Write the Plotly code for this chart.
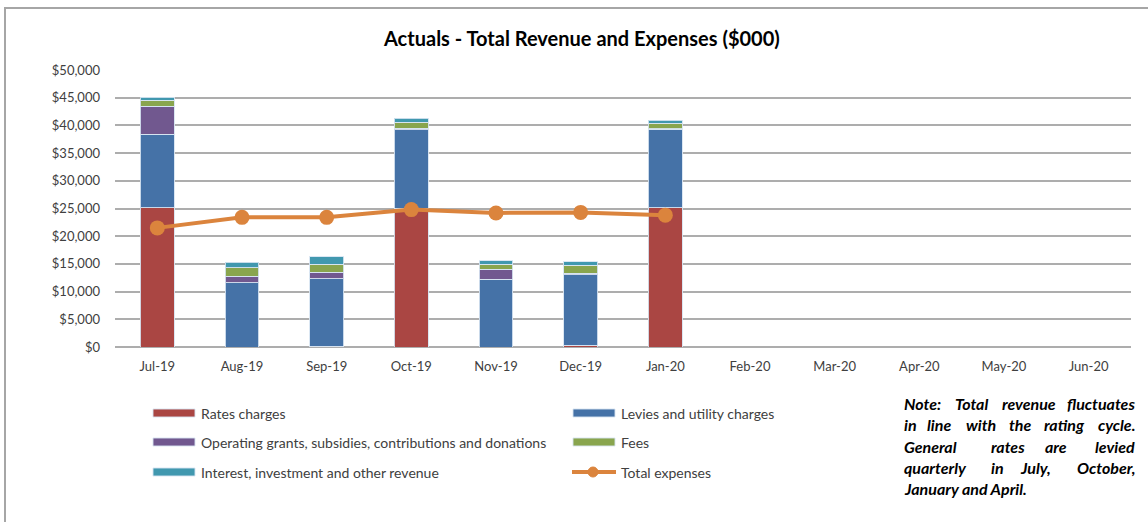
import plotly.graph_objects as go

# Monthly actuals, $000
months = ["Jul-19", "Aug-19", "Sep-19", "Oct-19", "Nov-19", "Dec-19",
          "Jan-20", "Feb-20", "Mar-20", "Apr-20", "May-20", "Jun-20"]
rates_charges = [25150, 0, 150, 25050, 0, 300, 25100, None, None, None, None, None]
levies_utility = [13250, 11600, 12150, 14150, 12200, 12700, 14200, None, None, None, None, None]
operating_grants = [5100, 1200, 1200, 300, 1800, 300, 60, None, None, None, None, None]
fees = [1000, 1500, 1400, 1100, 900, 1500, 1050, None, None, None, None, None]
interest_other = [600, 1000, 1400, 700, 700, 600, 500, None, None, None, None, None]
total_expenses = [21500, 23400, 23400, 24800, 24200, 24300, 23800]

y_ticks = list(range(0, 50001, 5000))
y_tick_labels = ["$0" if v == 0 else f"${v:,}" for v in y_ticks]

title = "Actuals - Total Revenue and Expenses ($000)"
note_lines = [
    ["Note:", "Total", "revenue", "fluctuates"],
    ["in", "line", "with", "the", "rating", "cycle."],
    ["General", "rates", "are", "levied"],
    ["quarterly", "in", "July,", "October,"],
    ["January and April."],
]

bar_series = [
    ("Rates charges", rates_charges, "#AA4643"),
    ("Levies and utility charges", levies_utility, "#4572A7"),
    ("Operating grants, subsidies, contributions and donations", operating_grants, "#71588F"),
    ("Fees", fees, "#89A54E"),
    ("Interest, investment and other revenue", interest_other, "#4198AF"),
]
line_name = "Total expenses"
line_color = "#DB843D"

FONT = "Lato"
TEXT = "#404040"

# plot area in pixels
L, R, T, B = 115, 1131, 70, 347


def px(x):
    return (x - L) / (R - L)


def py(y):
    return (B - y) / (B - T)


fig = go.Figure()
for name, vals, color in bar_series:
    fig.add_trace(go.Bar(
        x=months, y=vals, name=name, marker_color=color,
        marker_line=dict(color="rgba(215,228,242,0.9)", width=1),
        showlegend=False,
    ))

fig.add_trace(go.Scatter(
    x=months[:len(total_expenses)], y=total_expenses, name=line_name,
    mode="lines+markers", line=dict(color=line_color, width=4),
    marker=dict(size=15, color=line_color), showlegend=False,
))

shapes = []
annotations = []

# outer chart border
shapes.append(dict(type="rect", xref="paper", yref="paper",
                   x0=px(5), x1=px(1152), y0=py(530), y1=py(8),
                   line=dict(color="#A6A6A6", width=2), fillcolor="rgba(0,0,0,0)",
                   layer="below"))

# title
annotations.append(dict(text=f"<b>{title}</b>", xref="paper", yref="paper",
                        x=px(581), y=py(38), showarrow=False,
                        font=dict(family=FONT, size=20, color="#000000"),
                        xanchor="center", yanchor="middle"))

# legend built from swatches and labels
legend_cols = [153, 573]
legend_rows = [413, 442, 472]
legend_items = [(n, c, "bar") for n, _, c in bar_series] + [(line_name, line_color, "line")]
for i, (name, color, kind) in enumerate(legend_items):
    cx = legend_cols[i % 2]
    cy = legend_rows[i // 2]
    if kind == "bar":
        shapes.append(dict(type="rect", xref="paper", yref="paper",
                           x0=px(cx), x1=px(cx + 42), y0=py(cy + 4), y1=py(cy - 4),
                           fillcolor=color, line=dict(color="rgba(215,228,242,0.9)", width=1)))
    else:
        shapes.append(dict(type="line", xref="paper", yref="paper",
                           x0=px(cx - 1), x1=px(cx + 43), y0=py(cy), y1=py(cy),
                           line=dict(color=color, width=4)))
        shapes.append(dict(type="circle", xref="paper", yref="paper",
                           x0=px(cx + 15), x1=px(cx + 25), y0=py(cy + 5), y1=py(cy - 5),
                           fillcolor=color, line=dict(color=color, width=1)))
    annotations.append(dict(text=name, xref="paper", yref="paper",
                            x=px(cx + 46), y=py(cy), showarrow=False,
                            xanchor="left", yanchor="middle",
                            font=dict(family=FONT, size=14, color=TEXT)))

# justified note text, word by word
note_right = 1137
note_y = [403, 424, 446, 467, 488]
word_starts = [
    [902, 953, 1000, None],
    [902, 925, 964, 1007, 1042, None],
    [902, 989, 1043, None],
    [902, 989, 1018, None],
    [902],
]
for words, starts, yy in zip(note_lines, word_starts, note_y):
    for w, sx in zip(words, starts):
        right = sx is None
        annotations.append(dict(text=f"<b><i>{w}</i></b>", xref="paper", yref="paper",
                                x=px(note_right if right else sx), y=py(yy), showarrow=False,
                                xanchor="right" if right else "left", yanchor="middle",
                                font=dict(family=FONT, size=16, color="#000000")))

fig.update_layout(
    width=1148, height=522,
    margin=dict(l=L, r=1148 - R, t=T, b=522 - B, pad=0),
    barmode="stack", bargap=0.6,
    plot_bgcolor="white", paper_bgcolor="white",
    font=dict(family=FONT, size=13, color=TEXT),
    shapes=shapes, annotations=annotations,
    showlegend=False,
    xaxis=dict(type="category", categoryorder="array", categoryarray=months,
               range=[-0.5, len(months) - 0.5], showgrid=False, showline=False,
               ticks="", ticklabelstandoff=10, tickfont=dict(family=FONT, size=13, color=TEXT)),
    yaxis=dict(range=[0, 50000], tickvals=y_ticks, ticktext=y_tick_labels,
               showgrid=True, gridcolor="#ADADAD", gridwidth=1.5,
               zeroline=True, zerolinecolor="#ADADAD", zerolinewidth=1.5,
               showline=False, ticks="", ticklabelstandoff=14,
               tickfont=dict(family=FONT, size=13, color=TEXT)),
)

fig.write_html("out.html")
